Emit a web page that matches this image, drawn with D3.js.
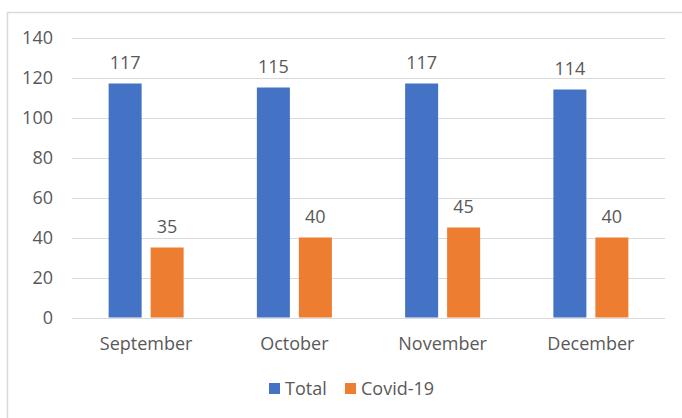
<!DOCTYPE html>
<html>
<head>
<meta charset="utf-8">
<script src="https://cdn.jsdelivr.net/npm/d3@7"></script>
<style>
  body { margin: 0; background: #fff; }
  text { font-family: "Open Sans", sans-serif; fill: #595959; }
</style>
</head>
<body>
<div id="chart"></div>
<script>
const months = ["September", "October", "November", "December"]
const seriesNames = ["Total", "Covid-19"]
const totalValues = [117, 115, 117, 114]
const covidValues = [35, 40, 45, 40]
const yTicks = [0, 20, 40, 60, 80, 100, 120, 140]

const colors = ["#4472C4", "#ED7D31"]
const W = 682, H = 418
const MARGIN = { LEFT: 72, RIGHT: 17, TOP: 37.5, BOTTOM: 100.5 }

const svg = d3.select("#chart").append("svg")
  .attr("width", W)
  .attr("height", H)

// chart area border
svg.append("rect")
  .attr("x", 7.5).attr("y", 12.5)
  .attr("width", W + 10).attr("height", H + 10)
  .attr("fill", "none")
  .attr("stroke", "#d9d9d9")
  .attr("stroke-width", 1.5)

const x = d3.scaleBand()
  .domain(months)
  .range([MARGIN.LEFT, W - MARGIN.RIGHT])

const y = d3.scaleLinear()
  .domain([0, 140])
  .range([H - MARGIN.BOTTOM, MARGIN.TOP])

// gridlines
svg.append("g")
  .selectAll("line")
  .data(yTicks)
  .join("line")
  .attr("x1", MARGIN.LEFT)
  .attr("x2", W - MARGIN.RIGHT)
  .attr("y1", d => Math.round(y(d)) + 0.5)
  .attr("y2", d => Math.round(y(d)) + 0.5)
  .attr("stroke", "#d9d9d9")
  .attr("stroke-width", 1)

// y axis labels
const yAxis = svg.append("g")
  .attr("transform", `translate(${MARGIN.LEFT - 19}, 0)`)
  .call(d3.axisLeft(y).tickValues(yTicks).tickSize(0).tickPadding(0))
yAxis.select(".domain").remove()
yAxis.selectAll("text")
  .attr("font-size", "18px")
  .attr("font-family", null)
  .attr("fill", "#595959")

// x axis labels
const xAxis = svg.append("g")
  .attr("transform", `translate(0, ${H - MARGIN.BOTTOM})`)
  .call(d3.axisBottom(x).tickSize(0).tickPadding(20))
xAxis.select(".domain").remove()
xAxis.selectAll("text")
  .attr("font-size", "18px")
  .attr("font-family", null)
  .attr("fill", "#595959")

const data = months.map((m, i) => ({ month: m, values: [totalValues[i], covidValues[i]] }))

const barW = 33, gap = 9

const groups = svg.append("g")
  .selectAll("g")
  .data(data)
  .join("g")
  .attr("transform", d => `translate(${x(d.month) + x.bandwidth() / 2}, 0)`)

groups.selectAll("rect")
  .data(d => d.values.map((v, i) => ({ v, i })))
  .join("rect")
  .attr("x", d => d.i === 0 ? -gap / 2 - barW : gap / 2)
  .attr("y", d => y(d.v))
  .attr("width", barW)
  .attr("height", d => y(0) - y(d.v))
  .attr("fill", d => colors[d.i])

groups.selectAll("text.value")
  .data(d => d.values.map((v, i) => ({ v, i })))
  .join("text")
  .attr("class", "value")
  .attr("x", d => (d.i === 0 ? -gap / 2 - barW : gap / 2) + barW / 2)
  .attr("y", d => y(d.v) - 15)
  .attr("text-anchor", "middle")
  .attr("font-size", "18px")
  .attr("fill", "#404040")
  .text(d => d.v)

// legend
const legend = svg.append("g")
  .attr("transform", "translate(269, 389)")
const legendX = [0, 76]
const items = legend.selectAll("g")
  .data(seriesNames)
  .join("g")
  .attr("transform", (d, i) => `translate(${legendX[i]}, 0)`)
items.append("rect")
  .attr("x", 0).attr("y", -6)
  .attr("width", 11).attr("height", 11)
  .attr("fill", (d, i) => colors[i])
items.append("text")
  .attr("x", 16).attr("y", 0)
  .attr("dy", "0.35em")
  .attr("font-size", "18px")
  .text(d => d)
</script>
</body>
</html>
